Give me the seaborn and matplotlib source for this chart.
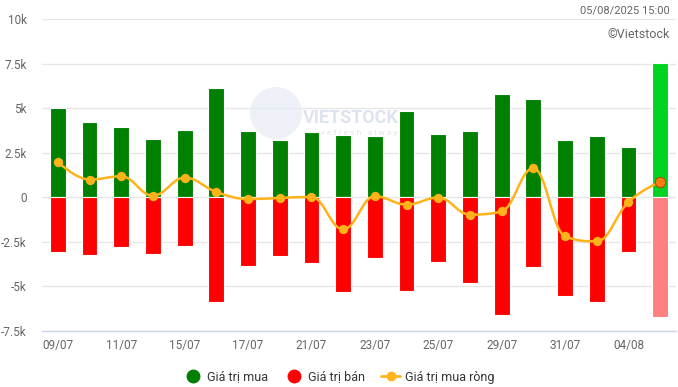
import matplotlib
matplotlib.use("Agg")
import matplotlib.pyplot as plt
from matplotlib.path import Path
from matplotlib.patches import PathPatch, Ellipse
from matplotlib.lines import Line2D
import seaborn as sns
import pandas as pd
import numpy as np

dates = ["09/07", "10/07", "11/07", "14/07", "15/07", "16/07", "17/07", "18/07", "21/07", "22/07",
         "23/07", "24/07", "25/07", "28/07", "29/07", "30/07", "31/07", "01/08", "04/08", "05/08"]
buy = [5000, 4210, 3930, 3260, 3760, 6120, 3710, 3200, 3650, 3500,
       3430, 4830, 3540, 3710, 5790, 5510, 3200, 3430, 2810, 7530]
sell = [-3090, -3260, -2810, -3200, -2750, -5900, -3880, -3310, -3710, -5340,
        -3430, -5280, -3650, -4780, -6630, -3930, -5510, -5900, -3090, -6690]
net = [1970, 990, 1180, 90, 1100, 300, -100, -40, 20, -1800,
       60, -410, -20, -970, -790, 1630, -2190, -2470, -260, 880]
tick_labels = ["09/07", "11/07", "15/07", "17/07", "21/07", "23/07", "25/07", "29/07", "31/07", "04/08"]
ytick_vals = [-7500, -5000, -2500, 0, 2500, 5000, 7500, 10000]
ytick_text = ["-7.5k", "-5k", "-2.5k", "0", "2.5k", "5k", "7.5k", "10k"]

GREEN, GREEN_HI = "#008000", "#00d322"
RED, RED_HI = "#ff0000", "#ff8080"
ORANGE = "#ffb31a"

sns.set_theme(style="white")
plt.rcParams['font.family'] = ['Roboto', 'DejaVu Sans']

fig = plt.figure(figsize=(6.78, 3.87), dpi=100)
ax = fig.add_axes([42 / 678, 1 - 331 / 387, 634 / 678, 312 / 387])

df = pd.DataFrame({"date": dates, "buy": buy, "sell": sell})
buy_pal = [GREEN] * (len(dates) - 1) + [GREEN_HI]
sell_pal = [RED] * (len(dates) - 1) + [RED_HI]
sns.barplot(data=df, x="date", y="buy", hue="date", palette=buy_pal, width=0.5,
            edgecolor="white", linewidth=0.8, legend=False, ax=ax, zorder=2, saturation=1)
sns.barplot(data=df, x="date", y="sell", hue="date", palette=sell_pal, width=0.5,
            edgecolor="white", linewidth=0.8, legend=False, ax=ax, zorder=2, saturation=1)

# Spline (Highcharts-style bezier) for net values
xs = np.arange(len(net), dtype=float)
ys = np.array(net, dtype=float)
sm = 1.5
den = sm + 1
verts = [(xs[0], ys[0])]
codes = [Path.MOVETO]
ctrl = []
for i in range(len(xs)):
    if i == 0 or i == len(xs) - 1:
        ctrl.append(((xs[i], ys[i]), (xs[i], ys[i])))
        continue
    lx, ly = xs[i - 1], ys[i - 1]
    nx, ny = xs[i + 1], ys[i + 1]
    px, py = xs[i], ys[i]
    lcx = (sm * px + lx) / den
    lcy = (sm * py + ly) / den
    rcx = (sm * px + nx) / den
    rcy = (sm * py + ny) / den
    corr = ((rcy - lcy) * (rcx - px)) / (rcx - lcx) + py - rcy
    lcy += corr
    rcy += corr
    if lcy > ly and lcy > py:
        lcy = max(ly, py); rcy = 2 * py - lcy
    elif lcy < ly and lcy < py:
        lcy = min(ly, py); rcy = 2 * py - lcy
    if rcy > ny and rcy > py:
        rcy = max(ny, py); lcy = 2 * py - rcy
    elif rcy < ny and rcy < py:
        rcy = min(ny, py); lcy = 2 * py - rcy
    ctrl.append(((lcx, lcy), (rcx, rcy)))
for i in range(1, len(xs)):
    verts += [ctrl[i - 1][1], ctrl[i][0], (xs[i], ys[i])]
    codes += [Path.CURVE4, Path.CURVE4, Path.CURVE4]
ax.add_patch(PathPatch(Path(verts, codes), facecolor="none", edgecolor=ORANGE, lw=1.8, zorder=3))
ax.scatter(xs[:-1], ys[:-1], s=45, color=ORANGE, zorder=4, linewidths=0)
ax.scatter(xs[-1:], ys[-1:], s=55, color="#ff7a12", edgecolors="#b05000", linewidths=0.8, zorder=4)

ax.set_xlim(-0.5, len(dates) - 0.5)
ax.set_ylim(-7500, 10000)
ax.set_yticks(ytick_vals)
ax.set_yticklabels(ytick_text)
ax.set_xticks([dates.index(t) for t in tick_labels])
ax.set_xticklabels(tick_labels)
ax.tick_params(axis="both", length=0, labelsize=8.5, colors="#666666")
ax.tick_params(axis="y", pad=11)
ax.tick_params(axis="x", pad=6)
ax.grid(axis="y", color="#e6e6e6", lw=1, zorder=0)
ax.set_axisbelow(True)
for s in ["top", "right", "left"]:
    ax.spines[s].set_visible(False)
ax.spines["bottom"].set_color("#ccd6eb")
ax.spines["bottom"].set_linewidth(1)
ax.set_xlabel("")
ax.set_ylabel("")

# watermark (behind bars)
def ax_frac(px, py):
    return ((px - 42) / 634, (331 - py) / 312)

cx, cy = ax_frac(276, 113)
ax.add_patch(Ellipse((cx, cy), 52 / 634, 52 / 312, transform=ax.transAxes,
                     facecolor="#e6ecf5", alpha=0.7, edgecolor="none", zorder=1))
tx, ty = ax_frac(303, 118)
ax.text(tx, ty, "VIETSTOCK", transform=ax.transAxes, fontsize=13, color="#dde3ef",
        ha="left", va="center", fontweight="bold", zorder=1)
tx, ty = ax_frac(322, 133)
ax.text(tx, ty, "r e f r e s h   a l w a y s", transform=ax.transAxes, fontsize=6, color="#dde3ef",
        ha="left", va="center", zorder=1)

fig.text(670 / 678, 1 - 10 / 387, "05/08/2025 15:00", ha="right", va="center", fontsize=8, color="#666666")
fig.text(670 / 678, 1 - 34 / 387, "©Vietstock", ha="right", va="center", fontsize=9, color="#666666")

handles = [
    Line2D([], [], marker="o", color="none", markerfacecolor=GREEN, markeredgecolor=GREEN, markersize=9),
    Line2D([], [], marker="o", color="none", markerfacecolor=RED, markeredgecolor=RED, markersize=9),
    Line2D([], [], marker="o", color=ORANGE, lw=2, markerfacecolor=ORANGE, markeredgecolor=ORANGE, markersize=6),
]
fig.legend(handles, ["Giá trị mua", "Giá trị bán", "Giá trị mua ròng"], loc="center",
           bbox_to_anchor=(0.5, 1 - 377 / 387), ncol=3, frameon=False, fontsize=9,
           labelcolor="#333333", handlelength=1.5, columnspacing=1.3, handletextpad=0.4)

fig.savefig("out.png", dpi=100)
